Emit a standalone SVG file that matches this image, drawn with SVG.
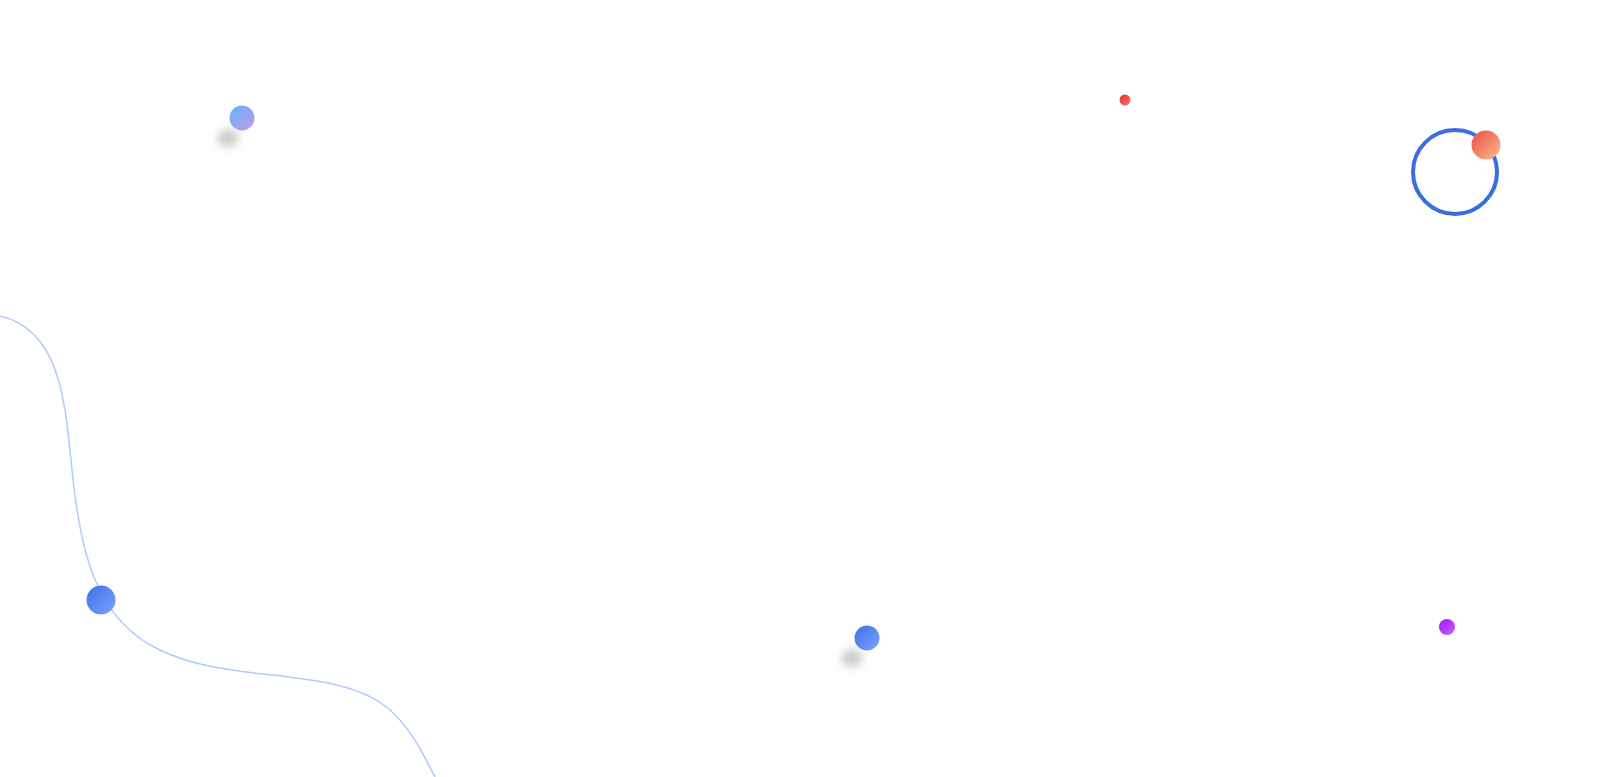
<svg xmlns="http://www.w3.org/2000/svg" width="1600" height="777" viewBox="0 0 1600 777">
<defs>
<linearGradient id="gBP" x1="0" y1="0" x2="1" y2="1"><stop offset="0" stop-color="#5fb4f5"/><stop offset="1" stop-color="#c49af0"/></linearGradient>
<linearGradient id="gB" x1="0" y1="0" x2="1" y2="1"><stop offset="0" stop-color="#3f6fe6"/><stop offset="1" stop-color="#7aa4ff"/></linearGradient>
<linearGradient id="gO" x1="0" y1="0" x2="1" y2="1"><stop offset="0" stop-color="#e84848"/><stop offset="1" stop-color="#ffc08a"/></linearGradient>
<linearGradient id="gR" x1="0" y1="0" x2="1" y2="1"><stop offset="0" stop-color="#e82a2a"/><stop offset="1" stop-color="#ff7a7a"/></linearGradient>
<linearGradient id="gV" x1="0" y1="0" x2="1" y2="1"><stop offset="0" stop-color="#9a18f0"/><stop offset="1" stop-color="#d060ff"/></linearGradient>
<filter id="blur" x="-1" y="-1" width="3" height="3"><feGaussianBlur stdDeviation="4"/></filter>
</defs>
<rect width="1600" height="777" fill="#fff"/>
<path d="M0,316 C60,330 65,400 72,470 C80,550 95,620 160,650 C230,685 340,665 390,710 C415,732 428,765 435,777" fill="none" stroke="#b4c9fb" stroke-width="1.5"/>
<ellipse cx="228" cy="138" rx="11" ry="9" fill="#aaa" opacity="0.6" filter="url(#blur)"/>
<circle cx="242" cy="118" r="12.5" fill="url(#gBP)"/>
<ellipse cx="852" cy="658" rx="11" ry="9" fill="#aaa" opacity="0.6" filter="url(#blur)"/>
<circle cx="867" cy="638" r="12.5" fill="url(#gB)"/>
<circle cx="101" cy="600" r="14.5" fill="url(#gB)"/>
<circle cx="1125" cy="100" r="5.5" fill="url(#gR)"/>
<circle cx="1455" cy="172" r="42" fill="none" stroke="#3c6de0" stroke-width="4"/>
<circle cx="1486" cy="145" r="14.5" fill="url(#gO)"/>
<circle cx="1447" cy="627" r="8" fill="url(#gV)"/>
</svg>
